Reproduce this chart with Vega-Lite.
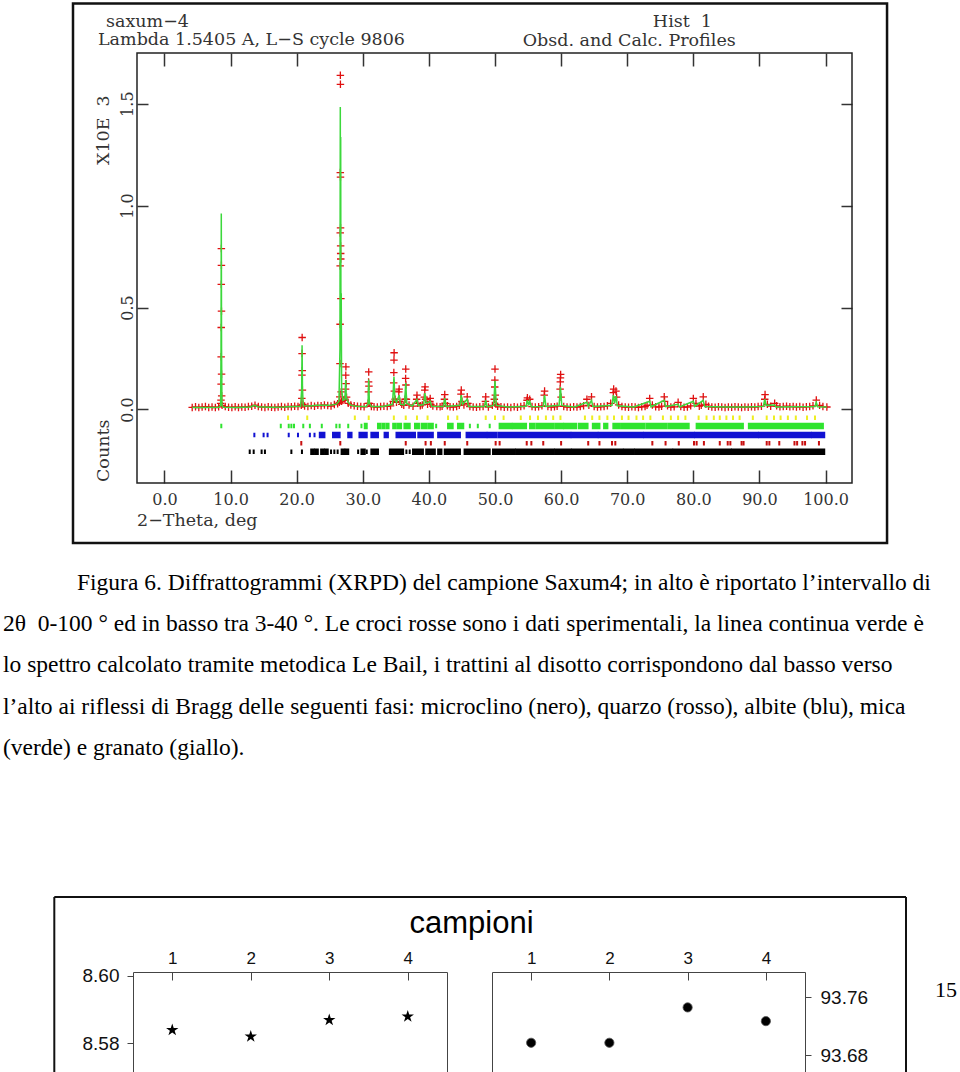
{
"$schema": "https://vega.github.io/schema/vega-lite/v6.json",
"padding": {"left": 3, "top": 2, "right": 0, "bottom": 0},
"spacing": 0,
"bounds": "flush",
"config": {"view": {"stroke": null}, "axis": {"grid": false}},
"datasets": {
"obs": [
{"x":4.2,"y":0.010},{"x":4.7,"y":0.013},{"x":5.2,"y":0.009},{"x":5.7,"y":0.012},{"x":6.2,"y":0.014},{"x":6.7,"y":0.010},{"x":7.2,"y":0.012},{"x":7.7,"y":0.009},{"x":8.2,"y":0.013},
{"x":8.5,"y":0.03},{"x":8.55,"y":0.046},{"x":8.57,"y":0.124},{"x":8.58,"y":0.258},{"x":8.59,"y":0.402},{"x":8.6,"y":0.614},{"x":8.61,"y":0.789},{"x":8.62,"y":0.707},{"x":8.63,"y":0.482},{"x":8.64,"y":0.173},{"x":8.66,"y":0.067},{"x":8.72,"y":0.02},
{"x":9.2,"y":0.014},{"x":9.7,"y":0.011},{"x":10.2,"y":0.010},{"x":10.7,"y":0.013},{"x":11.2,"y":0.009},{"x":11.7,"y":0.012},{"x":12.2,"y":0.011},{"x":12.7,"y":0.014},{"x":13.2,"y":0.016},{"x":13.7,"y":0.021},{"x":14.2,"y":0.015},{"x":14.7,"y":0.012},{"x":15.2,"y":0.010},{"x":15.7,"y":0.013},{"x":16.2,"y":0.011},{"x":16.7,"y":0.009},{"x":17.2,"y":0.012},{"x":17.7,"y":0.014},{"x":18.2,"y":0.011},{"x":18.7,"y":0.015},{"x":19.2,"y":0.013},{"x":19.7,"y":0.016},{"x":20.2,"y":0.014},
{"x":20.7,"y":0.02},{"x":20.78,"y":0.054},{"x":20.8,"y":0.168},{"x":20.82,"y":0.274},{"x":20.83,"y":0.353},{"x":20.85,"y":0.19},{"x":20.87,"y":0.095},{"x":20.95,"y":0.025},
{"x":21.2,"y":0.017},{"x":21.7,"y":0.015},{"x":22.2,"y":0.019},{"x":22.7,"y":0.016},{"x":23.2,"y":0.020},{"x":23.7,"y":0.018},{"x":24.2,"y":0.022},{"x":24.7,"y":0.019},{"x":25.2,"y":0.017},{"x":25.7,"y":0.024},{"x":26.2,"y":0.028},
{"x":26.45,"y":0.035},{"x":26.52,"y":0.062},{"x":26.55,"y":0.225},{"x":26.57,"y":0.418},{"x":26.58,"y":0.704},{"x":26.59,"y":0.866},{"x":26.6,"y":1.162},{"x":26.61,"y":1.639},{"x":26.62,"y":1.595},{"x":26.63,"y":1.14},{"x":26.64,"y":0.891},{"x":26.65,"y":0.802},{"x":26.66,"y":0.765},{"x":26.67,"y":0.738},{"x":26.69,"y":0.544},{"x":26.72,"y":0.086},{"x":26.8,"y":0.04},
{"x":27.0,"y":0.045},{"x":27.3,"y":0.05},{"x":27.4,"y":0.10},{"x":27.43,"y":0.168},{"x":27.45,"y":0.209},{"x":27.48,"y":0.127},{"x":27.55,"y":0.06},
{"x":27.8,"y":0.030},{"x":28.2,"y":0.022},{"x":28.7,"y":0.018},{"x":29.2,"y":0.016},{"x":29.7,"y":0.014},{"x":30.2,"y":0.013},
{"x":30.8,"y":0.03},{"x":30.86,"y":0.086},{"x":30.88,"y":0.135},{"x":30.9,"y":0.184},{"x":30.93,"y":0.114},{"x":31.0,"y":0.03},
{"x":31.3,"y":0.015},{"x":31.7,"y":0.013},{"x":32.2,"y":0.012},{"x":32.7,"y":0.014},{"x":33.2,"y":0.016},{"x":33.7,"y":0.015},{"x":34.2,"y":0.018},
{"x":34.6,"y":0.04},{"x":34.68,"y":0.13},{"x":34.7,"y":0.181},{"x":34.72,"y":0.242},{"x":34.74,"y":0.278},{"x":34.78,"y":0.09},{"x":34.9,"y":0.05},
{"x":35.1,"y":0.035},{"x":35.45,"y":0.086},{"x":35.5,"y":0.10},{"x":35.6,"y":0.04},{"x":35.9,"y":0.025},{"x":36.2,"y":0.020},
{"x":36.4,"y":0.05},{"x":36.48,"y":0.152},{"x":36.5,"y":0.198},{"x":36.53,"y":0.12},{"x":36.6,"y":0.05},
{"x":37.0,"y":0.022},{"x":37.6,"y":0.016},{"x":38.15,"y":0.05},{"x":38.2,"y":0.07},{"x":38.3,"y":0.03},{"x":38.7,"y":0.018},{"x":39.0,"y":0.022},
{"x":39.3,"y":0.06},{"x":39.38,"y":0.095},{"x":39.42,"y":0.111},{"x":39.5,"y":0.05},{"x":39.8,"y":0.025},{"x":40.15,"y":0.04},{"x":40.2,"y":0.054},{"x":40.3,"y":0.025},
{"x":40.6,"y":0.017},{"x":41.2,"y":0.014},{"x":41.7,"y":0.013},{"x":42.0,"y":0.016},{"x":42.35,"y":0.05},{"x":42.4,"y":0.073},{"x":42.5,"y":0.03},{"x":42.8,"y":0.018},{"x":43.2,"y":0.013},{"x":43.7,"y":0.012},{"x":44.2,"y":0.015},{"x":44.6,"y":0.020},
{"x":44.85,"y":0.075},{"x":44.9,"y":0.095},{"x":45.0,"y":0.04},{"x":45.3,"y":0.022},{"x":45.8,"y":0.062},{"x":45.9,"y":0.03},
{"x":46.2,"y":0.014},{"x":46.7,"y":0.012},{"x":47.2,"y":0.011},{"x":47.7,"y":0.013},{"x":48.2,"y":0.015},{"x":48.55,"y":0.04},{"x":48.6,"y":0.062},{"x":49.0,"y":0.012},{"x":49.6,"y":0.020},
{"x":49.9,"y":0.05},{"x":49.96,"y":0.11},{"x":49.98,"y":0.144},{"x":50.0,"y":0.198},{"x":50.05,"y":0.07},{"x":50.15,"y":0.025},
{"x":50.4,"y":0.016},{"x":50.9,"y":0.013},{"x":51.4,"y":0.011},{"x":51.9,"y":0.012},{"x":52.4,"y":0.010},{"x":52.9,"y":0.013},{"x":53.4,"y":0.011},{"x":53.9,"y":0.014},{"x":54.4,"y":0.018},
{"x":54.85,"y":0.045},{"x":54.9,"y":0.057},{"x":55.25,"y":0.05},{"x":55.6,"y":0.014},{"x":56.1,"y":0.012},{"x":56.6,"y":0.013},{"x":57.1,"y":0.018},{"x":57.45,"y":0.07},{"x":57.5,"y":0.09},
{"x":58.0,"y":0.015},{"x":58.5,"y":0.012},{"x":59.0,"y":0.013},{"x":59.4,"y":0.016},{"x":59.85,"y":0.1},{"x":59.88,"y":0.135},{"x":59.9,"y":0.155},{"x":59.93,"y":0.172},{"x":60.0,"y":0.06},
{"x":60.4,"y":0.015},{"x":60.9,"y":0.012},{"x":61.4,"y":0.011},{"x":61.9,"y":0.013},{"x":62.4,"y":0.012},{"x":62.9,"y":0.014},{"x":63.4,"y":0.018},{"x":63.9,"y":0.05},{"x":64.2,"y":0.020},{"x":64.6,"y":0.062},
{"x":65.0,"y":0.015},{"x":65.5,"y":0.012},{"x":66.0,"y":0.013},{"x":66.5,"y":0.015},{"x":67.0,"y":0.018},{"x":67.5,"y":0.030},{"x":67.9,"y":0.083},{"x":67.95,"y":0.1},{"x":68.3,"y":0.09},{"x":68.4,"y":0.06},
{"x":68.7,"y":0.022},{"x":69.2,"y":0.014},{"x":69.7,"y":0.012},{"x":70.2,"y":0.011},{"x":70.7,"y":0.013},{"x":71.2,"y":0.012},{"x":71.7,"y":0.010},{"x":72.2,"y":0.013},{"x":72.7,"y":0.014},{"x":73.0,"y":0.020},{"x":73.4,"y":0.054},{"x":73.8,"y":0.022},
{"x":74.3,"y":0.013},{"x":74.8,"y":0.012},{"x":75.2,"y":0.016},{"x":75.6,"y":0.062},{"x":75.65,"y":0.04},{"x":76.1,"y":0.018},{"x":76.6,"y":0.012},{"x":77.1,"y":0.013},{"x":77.7,"y":0.035},{"x":78.1,"y":0.014},{"x":78.6,"y":0.011},{"x":79.1,"y":0.012},{"x":79.6,"y":0.018},
{"x":80.0,"y":0.054},{"x":80.4,"y":0.030},{"x":80.9,"y":0.016},{"x":81.2,"y":0.020},{"x":81.5,"y":0.062},{"x":81.9,"y":0.025},{"x":82.3,"y":0.016},{"x":82.8,"y":0.012},{"x":83.3,"y":0.011},{"x":83.8,"y":0.013},{"x":84.3,"y":0.012},{"x":84.8,"y":0.010},
{"x":85.3,"y":0.012},{"x":85.8,"y":0.011},{"x":86.3,"y":0.013},{"x":86.8,"y":0.012},{"x":87.3,"y":0.010},{"x":87.8,"y":0.012},{"x":88.3,"y":0.011},{"x":88.8,"y":0.013},{"x":89.3,"y":0.012},{"x":89.8,"y":0.014},{"x":90.3,"y":0.016},
{"x":90.8,"y":0.05},{"x":90.85,"y":0.073},{"x":91.2,"y":0.025},{"x":91.7,"y":0.016},{"x":92.3,"y":0.03},{"x":92.6,"y":0.018},{"x":93.1,"y":0.013},{"x":93.6,"y":0.014},{"x":94.1,"y":0.016},{"x":94.6,"y":0.013},{"x":95.1,"y":0.015},{"x":95.6,"y":0.012},
{"x":96.1,"y":0.014},{"x":96.6,"y":0.011},{"x":97.1,"y":0.013},{"x":97.6,"y":0.014},{"x":98.1,"y":0.018},{"x":98.6,"y":0.046},{"x":99.1,"y":0.020},{"x":99.6,"y":0.014},{"x":100.2,"y":0.012}
],
"calc": [
{"x":4.2,"y":0.009},{"x":6,"y":0.010},{"x":8.3,"y":0.011},{"x":8.5,"y":0.02},{"x":8.56,"y":0.3},{"x":8.6,"y":0.961},{"x":8.64,"y":0.3},{"x":8.7,"y":0.02},{"x":8.9,"y":0.011},{"x":11,"y":0.010},{"x":13,"y":0.012},{"x":13.6,"y":0.02},{"x":14.1,"y":0.013},{"x":16,"y":0.011},{"x":18,"y":0.012},{"x":19.5,"y":0.014},{"x":20.6,"y":0.016},{"x":20.76,"y":0.1},{"x":20.82,"y":0.315},{"x":20.88,"y":0.1},{"x":21.0,"y":0.018},{"x":22,"y":0.017},{"x":23,"y":0.02},{"x":24,"y":0.021},{"x":25,"y":0.02},{"x":26,"y":0.026},{"x":26.4,"y":0.04},{"x":26.55,"y":0.3},{"x":26.6,"y":1.483},{"x":26.63,"y":0.6},{"x":26.66,"y":1.336},{"x":26.7,"y":0.3},{"x":26.74,"y":0.57},{"x":26.8,"y":0.1},{"x":27.0,"y":0.045},{"x":27.3,"y":0.05},{"x":27.42,"y":0.144},{"x":27.5,"y":0.06},{"x":27.8,"y":0.035},{"x":28.2,"y":0.021},{"x":29,"y":0.016},{"x":30.5,"y":0.014},{"x":30.8,"y":0.03},{"x":30.9,"y":0.147},{"x":31.0,"y":0.03},{"x":31.3,"y":0.014},{"x":33,"y":0.014},{"x":34.5,"y":0.025},{"x":34.72,"y":0.16},{"x":34.85,"y":0.05},{"x":35.1,"y":0.035},{"x":35.5,"y":0.07},{"x":35.7,"y":0.025},{"x":36.3,"y":0.022},{"x":36.5,"y":0.13},{"x":36.65,"y":0.03},{"x":37.5,"y":0.017},{"x":38.2,"y":0.05},{"x":38.4,"y":0.019},{"x":39.2,"y":0.024},{"x":39.4,"y":0.08},{"x":39.6,"y":0.03},{"x":40.2,"y":0.04},{"x":40.4,"y":0.016},{"x":42.2,"y":0.015},{"x":42.4,"y":0.055},{"x":42.6,"y":0.015},{"x":44.7,"y":0.02},{"x":44.9,"y":0.07},{"x":45.1,"y":0.025},{"x":45.8,"y":0.05},{"x":46.0,"y":0.014},{"x":48.4,"y":0.014},{"x":48.6,"y":0.045},{"x":48.8,"y":0.013},{"x":49.8,"y":0.02},{"x":50.0,"y":0.14},{"x":50.2,"y":0.02},{"x":52,"y":0.012},{"x":54.7,"y":0.016},{"x":54.9,"y":0.045},{"x":55.1,"y":0.02},{"x":55.25,"y":0.04},{"x":55.5,"y":0.013},{"x":57.3,"y":0.015},{"x":57.5,"y":0.07},{"x":57.7,"y":0.015},{"x":59.7,"y":0.02},{"x":59.9,"y":0.11},{"x":60.1,"y":0.02},{"x":62,"y":0.012},{"x":63.9,"y":0.035},{"x":64.1,"y":0.015},{"x":64.6,"y":0.045},{"x":64.8,"y":0.015},{"x":67.7,"y":0.02},{"x":67.9,"y":0.07},{"x":68.1,"y":0.03},{"x":68.3,"y":0.065},{"x":68.5,"y":0.018},{"x":71,"y":0.012},{"x":73.4,"y":0.04},{"x":73.6,"y":0.013},{"x":75.6,"y":0.045},{"x":75.8,"y":0.014},{"x":77.7,"y":0.025},{"x":77.9,"y":0.012},{"x":80.0,"y":0.04},{"x":80.2,"y":0.015},{"x":81.5,"y":0.045},{"x":81.7,"y":0.014},{"x":85,"y":0.012},{"x":88,"y":0.012},{"x":90.6,"y":0.015},{"x":90.8,"y":0.05},{"x":91.0,"y":0.02},{"x":92.3,"y":0.022},{"x":92.5,"y":0.012},{"x":95,"y":0.013},{"x":98.4,"y":0.014},{"x":98.6,"y":0.035},{"x":98.8,"y":0.013},{"x":100.2,"y":0.012}
],
"refl": [
{"p":"g","a":18.7,"b":18.7},{"p":"g","a":21.6,"b":21.6},{"p":"g","a":28.8,"b":28.8},{"p":"g","a":30.9,"b":30.9},{"p":"g","a":34.7,"b":34.7},{"p":"g","a":36.5,"b":36.5},{"p":"g","a":38.2,"b":38.2},{"p":"g","a":39.8,"b":39.8},{"p":"g","a":42.9,"b":42.9},{"p":"g","a":44.3,"b":44.3},{"p":"g","a":48.6,"b":48.6},{"p":"g","a":50.0,"b":50.0},{"p":"g","a":51.3,"b":51.3},{"p":"g","a":53.9,"b":53.9},{"p":"g","a":55.3,"b":55.3},{"p":"g","a":56.5,"b":56.5},{"p":"g","a":57.7,"b":57.7},{"p":"g","a":58.8,"b":58.8},{"p":"g","a":59.9,"b":59.9},{"p":"g","a":63.6,"b":63.6},{"p":"g","a":64.7,"b":64.7},{"p":"g","a":65.8,"b":65.8},{"p":"g","a":67.0,"b":67.0},{"p":"g","a":68.0,"b":68.0},{"p":"g","a":69.2,"b":69.2},{"p":"g","a":70.2,"b":70.2},{"p":"g","a":71.4,"b":71.4},{"p":"g","a":72.4,"b":72.4},{"p":"g","a":73.5,"b":73.5},{"p":"g","a":75.4,"b":75.4},{"p":"g","a":76.6,"b":76.6},{"p":"g","a":77.7,"b":77.7},{"p":"g","a":78.8,"b":78.8},{"p":"g","a":80.8,"b":80.8},{"p":"g","a":82.0,"b":82.0},{"p":"g","a":83.1,"b":83.1},{"p":"g","a":84.0,"b":84.0},{"p":"g","a":85.0,"b":85.0},{"p":"g","a":86.0,"b":86.0},{"p":"g","a":87.0,"b":87.0},{"p":"g","a":89.0,"b":89.0},{"p":"g","a":91.1,"b":91.1},{"p":"g","a":92.2,"b":92.2},{"p":"g","a":93.2,"b":93.2},{"p":"g","a":94.3,"b":94.3},{"p":"g","a":95.5,"b":95.5},{"p":"g","a":97.2,"b":97.2},{"p":"g","a":98.4,"b":98.4},
{"p":"m","a":8.6,"b":8.6},{"p":"m","a":17.6,"b":17.6},{"p":"m","a":18.8,"b":18.8},{"p":"m","a":19.2,"b":19.2},{"p":"m","a":19.6,"b":19.6},{"p":"m","a":21.0,"b":21.0},{"p":"m","a":22.0,"b":22.0},{"p":"m","a":23.8,"b":23.8},{"p":"m","a":26.0,"b":26.0},{"p":"m","a":26.5,"b":26.5},{"p":"m","a":27.8,"b":27.8},{"p":"m","a":29.8,"b":29.8},{"p":"m","a":30.3,"b":30.6},{"p":"m","a":32.3,"b":32.7},{"p":"m","a":33.0,"b":33.3},{"p":"m","a":33.6,"b":33.9},{"p":"m","a":34.6,"b":35.0},{"p":"m","a":35.3,"b":35.8},{"p":"m","a":36.3,"b":37.1},{"p":"m","a":37.9,"b":38.5},{"p":"m","a":38.9,"b":39.6},{"p":"m","a":39.9,"b":40.6},{"p":"m","a":41.1,"b":41.1},{"p":"m","a":42.9,"b":43.6},{"p":"m","a":44.4,"b":45.2},{"p":"m","a":46.2,"b":46.2},{"p":"m","a":47.4,"b":47.4},{"p":"m","a":49.2,"b":49.2},{"p":"m","a":50.7,"b":52.5},{"p":"m","a":52.7,"b":54.7},{"p":"m","a":55.3,"b":56.0},{"p":"m","a":56.3,"b":58.8},{"p":"m","a":59.1,"b":60.3},{"p":"m","a":60.5,"b":62.3},{"p":"m","a":62.7,"b":64.0},{"p":"m","a":64.8,"b":65.8},{"p":"m","a":66.5,"b":67.0},{"p":"m","a":67.9,"b":68.9},{"p":"m","a":69.2,"b":72.6},{"p":"m","a":72.9,"b":75.9},{"p":"m","a":76.2,"b":79.3},{"p":"m","a":80.5,"b":87.5},{"p":"m","a":88.4,"b":99.6},
{"p":"a","a":13.6,"b":13.6},{"p":"a","a":15.0,"b":15.0},{"p":"a","a":15.6,"b":15.6},{"p":"a","a":18.8,"b":18.8},{"p":"a","a":20.2,"b":20.2},{"p":"a","a":22.0,"b":22.0},{"p":"a","a":22.7,"b":22.7},{"p":"a","a":23.5,"b":24.2},{"p":"a","a":25.5,"b":26.5},{"p":"a","a":27.8,"b":28.3},{"p":"a","a":29.5,"b":30.6},{"p":"a","a":31.3,"b":32.3},{"p":"a","a":33.3,"b":33.8},{"p":"a","a":35.1,"b":37.9},{"p":"a","a":38.4,"b":40.6},{"p":"a","a":41.4,"b":44.7},{"p":"a","a":45.7,"b":48.7},{"p":"a","a":48.9,"b":50.2},{"p":"a","a":50.5,"b":61.4},{"p":"a","a":61.6,"b":65.5},{"p":"a","a":65.7,"b":72.4},{"p":"a","a":72.6,"b":80.1},{"p":"a","a":80.3,"b":89.8},{"p":"a","a":90.0,"b":97.8},{"p":"a","a":98.0,"b":99.8},
{"p":"q","a":20.7,"b":20.7},{"p":"q","a":26.6,"b":26.6},{"p":"q","a":36.5,"b":36.5},{"p":"q","a":39.5,"b":39.5},{"p":"q","a":40.3,"b":40.3},{"p":"q","a":42.4,"b":42.4},{"p":"q","a":45.8,"b":45.8},{"p":"q","a":50.1,"b":50.1},{"p":"q","a":50.7,"b":50.7},{"p":"q","a":54.8,"b":54.8},{"p":"q","a":55.5,"b":55.5},{"p":"q","a":57.3,"b":57.3},{"p":"q","a":60.0,"b":60.0},{"p":"q","a":64.1,"b":64.1},{"p":"q","a":65.8,"b":65.8},{"p":"q","a":67.7,"b":67.7},{"p":"q","a":68.2,"b":68.2},{"p":"q","a":73.8,"b":73.8},{"p":"q","a":75.8,"b":75.8},{"p":"q","a":77.8,"b":77.8},{"p":"q","a":80.1,"b":80.1},{"p":"q","a":80.5,"b":80.5},{"p":"q","a":81.6,"b":81.6},{"p":"q","a":84.0,"b":84.0},{"p":"q","a":85.2,"b":85.2},{"p":"q","a":85.6,"b":85.6},{"p":"q","a":87.3,"b":87.3},{"p":"q","a":87.6,"b":87.6},{"p":"q","a":91.1,"b":91.1},{"p":"q","a":91.5,"b":91.5},{"p":"q","a":93.0,"b":93.0},{"p":"q","a":95.3,"b":95.3},{"p":"q","a":95.7,"b":95.7},{"p":"q","a":96.5,"b":96.5},{"p":"q","a":96.9,"b":96.9},{"p":"q","a":99.0,"b":99.0},
{"p":"k","a":12.9,"b":12.9},{"p":"k","a":13.5,"b":13.5},{"p":"k","a":14.7,"b":14.7},{"p":"k","a":15.2,"b":15.2},{"p":"k","a":19.2,"b":19.2},{"p":"k","a":20.8,"b":20.8},{"p":"k","a":22.2,"b":22.6},{"p":"k","a":22.8,"b":23.2},{"p":"k","a":23.7,"b":24.1},{"p":"k","a":24.3,"b":24.7},{"p":"k","a":25.2,"b":25.2},{"p":"k","a":25.7,"b":25.7},{"p":"k","a":26.2,"b":26.2},{"p":"k","a":26.8,"b":27.2},{"p":"k","a":27.4,"b":27.8},{"p":"k","a":29.3,"b":29.3},{"p":"k","a":29.8,"b":30.3},{"p":"k","a":30.6,"b":30.6},{"p":"k","a":31.3,"b":32.3},{"p":"k","a":34.1,"b":36.1},{"p":"k","a":36.6,"b":36.6},{"p":"k","a":37.1,"b":37.1},{"p":"k","a":37.6,"b":39.1},{"p":"k","a":39.6,"b":40.9},{"p":"k","a":41.4,"b":41.9},{"p":"k","a":42.4,"b":44.7},{"p":"k","a":45.4,"b":49.2},{"p":"k","a":49.7,"b":53.0},{"p":"k","a":53.2,"b":58.9},{"p":"k","a":59.1,"b":61.5},{"p":"k","a":61.7,"b":69.3},{"p":"k","a":69.5,"b":71.0},{"p":"k","a":71.2,"b":76.8},{"p":"k","a":77.0,"b":85.7},{"p":"k","a":85.9,"b":99.8}
]
},
"vconcat": [
{
"width": 719, "height": 430,
"resolve": {"axis": {"x": "independent", "y": "independent"}},
"layer": [
{"data": {"values": [{}]}, "mark": {"type": "rect", "filled": false, "stroke": "#111", "strokeWidth": 2.5},
 "encoding": {"x": {"datum": -13.83, "type": "quantitative", "scale": {"domain": [-4.755, 104], "nice": false, "zero": false}, "axis": null}, "x2": {"datum": 109.3},
  "y": {"datum": -0.6551, "type": "quantitative", "scale": {"domain": [-0.3608, 1.7485], "nice": false, "zero": false}, "axis": null}, "y2": {"datum": 1.9913}}},
{"data": {"values": [{}]}, "mark": {"type": "rect", "filled": false, "stroke": "#222", "strokeWidth": 1.5},
 "encoding": {"x": {"datum": -4.15, "type": "quantitative", "axis": {"orient": "bottom", "values": [0,10,20,30,40,50,60,70,80,90,100], "format": ".1f", "title": null, "domain": false, "tickSize": -13, "tickColor": "#333", "tickWidth": 1.5, "labelPadding": 34, "labelBaseline": "alphabetic", "labelFont": "DejaVu Serif", "labelFontSize": 16, "labelColor": "#333", "labelFlush": false, "labelOverlap": false}},
  "x2": {"datum": 104},
  "y": {"datum": -0.3608, "type": "quantitative", "axis": {"orient": "left", "values": [0, 0.5, 1, 1.5], "format": ".1f", "title": null, "domain": false, "offset": -4, "tickSize": -11, "tickColor": "#333", "tickWidth": 1.5, "labelAngle": 270, "labelAlign": "center", "labelBaseline": "alphabetic", "labelPadding": 16, "labelFont": "DejaVu Serif", "labelFontSize": 16, "labelColor": "#333", "labelFlush": false, "labelOverlap": false}},
  "y2": {"datum": 1.7485}}},
{"data": {"name": "refl"}, "transform": [{"filter": "datum.p == 'g'"}], "mark": {"type": "rect", "color": "#eeee22", "stroke": "#eeee22", "strokeWidth": 2},
 "encoding": {"x": {"field": "a", "type": "quantitative", "axis": null}, "x2": {"field": "b"}, "y": {"datum": -0.0515, "type": "quantitative", "axis": null}, "y2": {"datum": -0.0295}}},
{"data": {"name": "refl"}, "transform": [{"filter": "datum.p == 'm'"}], "mark": {"type": "rect", "color": "#2fe42f", "stroke": "#2fe42f", "strokeWidth": 2},
 "encoding": {"x": {"field": "a", "type": "quantitative", "axis": null}, "x2": {"field": "b"}, "y": {"datum": -0.0922, "type": "quantitative", "axis": null}, "y2": {"datum": -0.0702}}},
{"data": {"name": "refl"}, "transform": [{"filter": "datum.p == 'a'"}], "mark": {"type": "rect", "color": "#1212d2", "stroke": "#1212d2", "strokeWidth": 2},
 "encoding": {"x": {"field": "a", "type": "quantitative", "axis": null}, "x2": {"field": "b"}, "y": {"datum": -0.1363, "type": "quantitative", "axis": null}, "y2": {"datum": -0.1143}}},
{"data": {"name": "refl"}, "transform": [{"filter": "datum.p == 'q'"}], "mark": {"type": "rect", "color": "#c81010", "stroke": "#c81010", "strokeWidth": 2},
 "encoding": {"x": {"field": "a", "type": "quantitative", "axis": null}, "x2": {"field": "b"}, "y": {"datum": -0.177, "type": "quantitative", "axis": null}, "y2": {"datum": -0.155}}},
{"data": {"name": "refl"}, "transform": [{"filter": "datum.p == 'k'"}], "mark": {"type": "rect", "color": "#000000", "stroke": "#000000", "strokeWidth": 2},
 "encoding": {"x": {"field": "a", "type": "quantitative", "axis": null}, "x2": {"field": "b"}, "y": {"datum": -0.2183, "type": "quantitative", "axis": null}, "y2": {"datum": -0.1963}}},
{"data": {"name": "obs"}, "mark": {"type": "point", "shape": "M-1,0L1,0M0,-1L0,1", "filled": false, "stroke": "#e01010", "strokeWidth": 1.3, "size": 56, "opacity": 1},
 "encoding": {"x": {"field": "x", "type": "quantitative", "axis": {"orient": "top", "values": [0,10,20,30,40,50,60,70,80,90,100], "labels": false, "title": null, "domain": false, "tickSize": -13, "tickColor": "#333", "tickWidth": 1.5}},
  "y": {"field": "y", "type": "quantitative", "axis": {"orient": "right", "values": [0, 0.5, 1, 1.5], "labels": false, "title": null, "domain": false, "tickSize": -11, "tickColor": "#333", "tickWidth": 1.5}}}},
{"data": {"name": "calc"}, "mark": {"type": "line", "color": "#3cd83c", "strokeWidth": 1.5},
 "encoding": {"x": {"field": "x", "type": "quantitative", "axis": null}, "y": {"field": "y", "type": "quantitative", "axis": null}}},
{"data": {"values": [{}]}, "mark": {"type": "text", "align": "left", "baseline": "alphabetic", "font": "DejaVu Serif", "fontSize": 17.5, "fill": "#333"},
 "encoding": {"x": {"datum": -8.84, "type": "quantitative", "axis": null}, "y": {"datum": 1.8775, "type": "quantitative", "axis": null}, "text": {"value": "saxum−4"}}},
{"data": {"values": [{}]}, "mark": {"type": "text", "align": "left", "baseline": "alphabetic", "font": "DejaVu Serif", "fontSize": 17.5, "fill": "#333"},
 "encoding": {"x": {"datum": -10.05, "type": "quantitative", "axis": null}, "y": {"datum": 1.7877, "type": "quantitative", "axis": null}, "text": {"value": "Lambda 1.5405 A, L−S cycle 9806"}}},
{"data": {"values": [{}]}, "mark": {"type": "text", "align": "left", "baseline": "alphabetic", "font": "DejaVu Serif", "fontSize": 17.5, "fill": "#333"},
 "encoding": {"x": {"datum": 73.88, "type": "quantitative", "axis": null}, "y": {"datum": 1.876, "type": "quantitative", "axis": null}, "text": {"value": "Hist\u00a0\u00a01"}}},
{"data": {"values": [{}]}, "mark": {"type": "text", "align": "left", "baseline": "alphabetic", "font": "DejaVu Serif", "fontSize": 17.5, "fill": "#333"},
 "encoding": {"x": {"datum": 54.2, "type": "quantitative", "axis": null}, "y": {"datum": 1.783, "type": "quantitative", "axis": null}, "text": {"value": "Obsd. and Calc. Profiles"}}},
{"data": {"values": [{}]}, "mark": {"type": "text", "align": "left", "baseline": "alphabetic", "font": "DejaVu Serif", "fontSize": 17.5, "fill": "#333"},
 "encoding": {"x": {"datum": -4.15, "type": "quantitative", "axis": null}, "y": {"datum": -0.57, "type": "quantitative", "axis": null}, "text": {"value": "2−Theta, deg"}}},
{"data": {"values": [{}]}, "mark": {"type": "text", "align": "left", "baseline": "alphabetic", "angle": 270, "font": "DejaVu Serif", "fontSize": 17.5, "fill": "#333"},
 "encoding": {"x": {"datum": -8.43, "type": "quantitative", "axis": null}, "y": {"datum": -0.356, "type": "quantitative", "axis": null}, "text": {"value": "Counts"}}},
{"data": {"values": [{}]}, "mark": {"type": "text", "align": "left", "baseline": "alphabetic", "angle": 270, "font": "DejaVu Serif", "fontSize": 17.5, "fill": "#333"},
 "encoding": {"x": {"datum": -8.43, "type": "quantitative", "axis": null}, "y": {"datum": 1.199, "type": "quantitative", "axis": null}, "text": {"value": "X10E\u00a0\u00a03"}}}
]
},
{
"width": 2, "height": 489,
"data": {"values": [
{"line": 1, "t": "Figura 6. Diffrattogrammi (XRPD) del campione Saxum4; in alto è riportato l’intervallo di"},
{"line": 2, "t": "2θ\u00a0\u00a00-100 ° ed in basso tra 3-40 °. Le croci rosse sono i dati sperimentali, la linea continua verde è"},
{"line": 3, "t": "lo spettro calcolato tramite metodica Le Bail, i trattini al disotto corrispondono dal basso verso"},
{"line": 4, "t": "l’alto ai riflessi di Bragg delle seguenti fasi: microclino (nero), quarzo (rosso), albite (blu), mica"},
{"line": 5, "t": "(verde) e granato (giallo)."}
]},
"layer": [
{"transform": [{"filter": "datum.line == 1"}], "mark": {"type": "text", "align": "left", "baseline": "alphabetic", "font": "Liberation Serif", "fontSize": 23.5, "fill": "#000", "dx": -57},
 "encoding": {"y": {"field": "line", "type": "quantitative", "scale": {"domain": [-1.594, 10.261], "reverse": true, "nice": false, "zero": false}, "axis": null}, "text": {"field": "t"}}},
{"transform": [{"filter": "datum.line > 1"}], "mark": {"type": "text", "align": "left", "baseline": "alphabetic", "font": "Liberation Serif", "fontSize": 23.5, "fill": "#000", "dx": -131},
 "encoding": {"y": {"field": "line", "type": "quantitative", "axis": null}, "text": {"field": "t"}}}
]
},
{
"hconcat": [
{
"width": 314, "height": 101,
"view": {"stroke": "#444", "strokeWidth": 1},
"resolve": {"axis": {"x": "independent", "y": "independent"}},
"layer": [
{"data": {"values": [{"s": 1, "v": 8.5839}, {"s": 2, "v": 8.582}, {"s": 3, "v": 8.5869}, {"s": 4, "v": 8.5879}]},
 "mark": {"type": "point", "shape": "M0,-1L0.2245,-0.309L0.9511,-0.309L0.3633,0.118L0.5878,0.809L0,0.382L-0.5878,0.809L-0.3633,0.118L-0.9511,-0.309L-0.2245,-0.309Z", "filled": true, "fill": "#000", "size": 170, "opacity": 1},
 "encoding": {"x": {"field": "s", "type": "quantitative", "scale": {"domain": [0.5, 4.5], "nice": false, "zero": false}, "axis": {"orient": "top", "values": [1, 2, 3, 4], "format": "d", "title": null, "domain": false, "tickSize": -8, "tickColor": "#444", "labelPadding": 17, "labelBaseline": "alphabetic", "labelFont": "Liberation Sans", "labelFontSize": 17, "labelColor": "#111"}},
  "y": {"field": "v", "type": "quantitative", "scale": {"domain": [8.5712, 8.6011], "nice": false, "zero": false}, "axis": {"orient": "left", "values": [8.58, 8.6], "format": ".2f", "title": null, "domain": false, "tickSize": 6, "tickColor": "#444", "labelPadding": 8, "labelFont": "Liberation Sans", "labelFontSize": 19, "labelColor": "#111"}}}},
{"data": {"values": [{}]}, "mark": {"type": "rule", "stroke": "#111", "strokeWidth": 2},
 "encoding": {"x": {"datum": -0.5025, "type": "quantitative", "axis": null}, "x2": {"datum": 10.347}, "y": {"datum": 8.6233, "type": "quantitative", "axis": null}}},
{"data": {"values": [{}]}, "mark": {"type": "rule", "stroke": "#111", "strokeWidth": 2},
 "encoding": {"x": {"datum": -0.5025, "type": "quantitative", "axis": null}, "y": {"datum": 8.6233, "type": "quantitative", "axis": null}, "y2": {"datum": 8.5712}}},
{"data": {"values": [{}]}, "mark": {"type": "rule", "stroke": "#111", "strokeWidth": 2},
 "encoding": {"x": {"datum": 10.347, "type": "quantitative", "axis": null}, "y": {"datum": 8.6233, "type": "quantitative", "axis": null}, "y2": {"datum": 8.5712}}},
{"data": {"values": [{}]}, "mark": {"type": "text", "align": "center", "baseline": "alphabetic", "font": "Liberation Sans", "fontSize": 31, "fill": "#000"},
 "encoding": {"x": {"datum": 4.812, "type": "quantitative", "axis": null}, "y": {"datum": 8.61277, "type": "quantitative", "axis": null}, "text": {"value": "campioni"}}}
]
},
{
"width": 313, "height": 101,
"view": {"stroke": "#444", "strokeWidth": 1},
"resolve": {"axis": {"x": "independent", "y": "independent"}},
"layer": [
{"data": {"values": [{"s": 1, "v": 93.697}, {"s": 2, "v": 93.697}, {"s": 3, "v": 93.746}, {"s": 4, "v": 93.727}]},
 "mark": {"type": "point", "shape": "circle", "filled": true, "fill": "#000", "stroke": "#555", "strokeWidth": 0.8, "size": 85, "opacity": 1},
 "encoding": {"x": {"field": "s", "type": "quantitative", "scale": {"domain": [0.5, 4.5], "nice": false, "zero": false}, "axis": {"orient": "top", "values": [1, 2, 3, 4], "format": "d", "title": null, "domain": false, "tickSize": -8, "tickColor": "#444", "labelPadding": 17, "labelBaseline": "alphabetic", "labelFont": "Liberation Sans", "labelFontSize": 17, "labelColor": "#111"}},
  "y": {"field": "v", "type": "quantitative", "scale": {"domain": [93.6551, 93.7951], "nice": false, "zero": false}, "axis": {"orient": "right", "values": [93.68, 93.76], "format": ".2f", "title": null, "domain": false, "tickSize": 6, "tickColor": "#444", "labelPadding": 9, "labelFont": "Liberation Sans", "labelFontSize": 19, "labelColor": "#111"}}}},
{"data": {"values": [{}]}, "mark": {"type": "text", "align": "left", "baseline": "alphabetic", "font": "Liberation Serif", "fontSize": 22, "fill": "#000"},
 "encoding": {"x": {"datum": 6.162, "type": "quantitative", "axis": null}, "y": {"datum": 93.7609, "type": "quantitative", "axis": null}, "text": {"value": "15"}}}
]
}
],
"spacing": 45,
"bounds": "flush"
}
]
}
